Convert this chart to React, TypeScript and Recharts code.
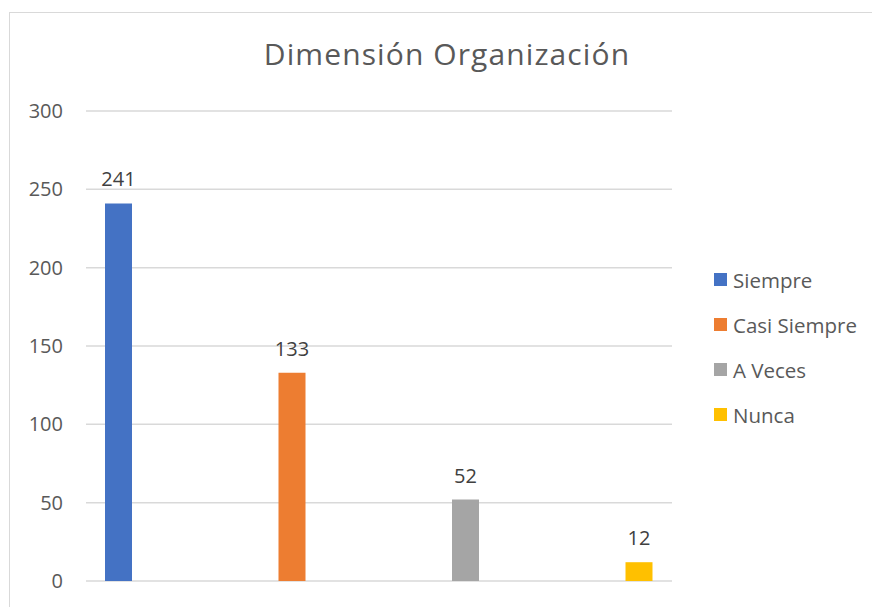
import { Bar, BarChart, CartesianGrid, LabelList, Legend, XAxis, YAxis } from 'recharts';

const categories = ['Dimensión Organización'];
const seriesNames = ['Siempre', 'Casi Siempre', 'A Veces', 'Nunca'];
const seriesValues = [241, 133, 52, 12];
const seriesColors = ['#4472C4', '#ED7D31', '#A5A5A5', '#FFC000'];
const yTicks = [0, 50, 100, 150, 200, 250, 300];

const chartData = categories.map((name) => {
  const row: Record<string, string | number> = { name };
  seriesNames.forEach((s, i) => {
    row[s] = seriesValues[i];
  });
  return row;
});

const font = '"Open Sans", "Noto Sans", sans-serif';

function LegendBox({ payload }: any) {
  const items = [...(payload || [])].sort(
    (a: any, b: any) => seriesNames.indexOf(a.value) - seriesNames.indexOf(b.value)
  );
  return (
    <div style={{ fontFamily: font, fontSize: 20.5, color: '#595959', textAlign: 'left' }}>
      {items.map((p: any) => (
        <div key={p.value} style={{ display: 'flex', alignItems: 'center', height: 45 }}>
          <span style={{ width: 13, height: 13, background: p.color, marginRight: 6, display: 'inline-block' }} />
          <span>{p.value}</span>
        </div>
      ))}
    </div>
  );
}

export default function App() {
  return (
    <div style={{ position: 'fixed', left: 0, top: 0, width: 872, height: 607, overflow: 'hidden', background: '#fff' }}>
      <div
        style={{
          position: 'absolute',
          left: 9,
          top: 12,
          width: 900,
          height: 700,
          border: '1px solid #d9d9d9',
        }}
      />
      <div
        style={{
          position: 'absolute',
          left: 0,
          top: 33,
          width: 894,
          textAlign: 'center',
          fontFamily: font,
          fontSize: 30,
          letterSpacing: 1.1,
          color: '#595959',
        }}
      >
        Dimensión Organización
      </div>
      <div style={{ position: 'absolute', left: 0, top: 0 }}>
        <BarChart
          width={872}
          height={607}
          data={chartData}
          margin={{ top: 111, right: 200, bottom: 26, left: 0 }}
          barSize={27}
          barGap={146.5}
        >
          <CartesianGrid vertical={false} stroke="#d9d9d9" strokeWidth={1.5} />
          <XAxis dataKey="name" hide />
          <YAxis
            width={86}
            domain={[0, 300]}
            ticks={yTicks}
            axisLine={false}
            tickLine={false}
            tickSize={6}
            tickMargin={17}
            tick={{ fill: '#595959', fontSize: 20, fontFamily: font }}
          />
          <Legend
            layout="horizontal"
            align="center"
            verticalAlign="middle"
            content={<LegendBox />}
            wrapperStyle={{ left: 714, top: 257, width: 160 }}
          />
          {seriesNames.map((s, i) => (
            <Bar key={s} dataKey={s} fill={seriesColors[i]} isAnimationActive={false}>
              <LabelList dataKey={s} position="top" offset={17} fill="#404040" fontSize={20} fontFamily={font} />
            </Bar>
          ))}
        </BarChart>
      </div>
    </div>
  );
}
